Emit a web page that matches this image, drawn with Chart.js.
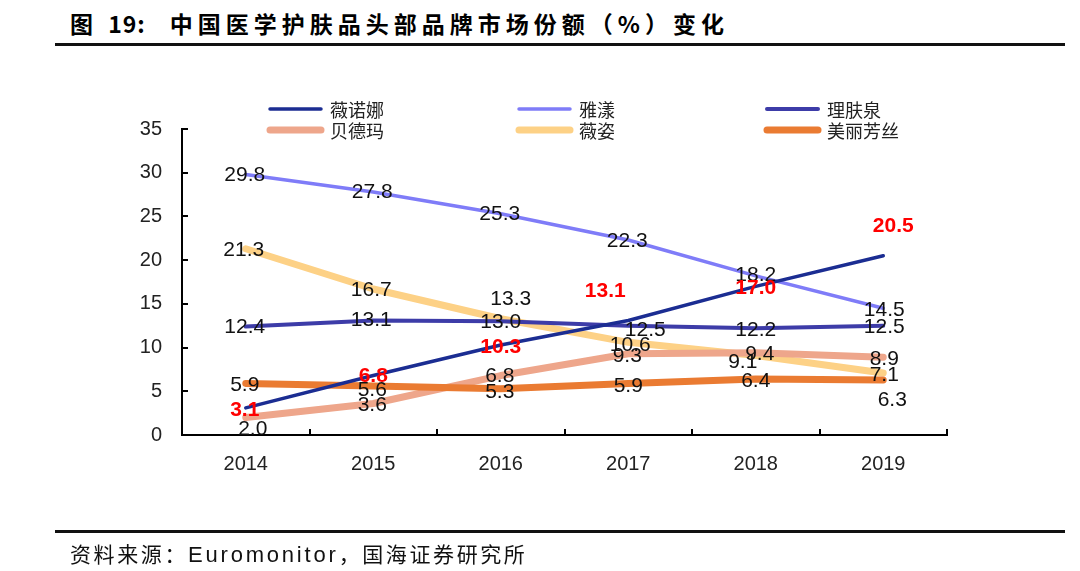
<!DOCTYPE html>
<html>
<head>
<meta charset="utf-8">
<script src="https://cdn.jsdelivr.net/npm/chart.js@4"></script>
<style>
  html, body { margin: 0; padding: 0; background: #fff; }
  #wrap { position: relative; width: 1080px; height: 571px; overflow: hidden; }
  #chart { position: absolute; left: 0; top: 0; }
  .title {
    position: absolute; left: 70px; top: 6px;
    font: bold 23px "Noto Sans CJK SC", sans-serif; letter-spacing: 5px; color: #000;
    white-space: nowrap;
  }
  .title .num { letter-spacing: 1px; margin-right: 24px; }
  .rule { position: absolute; left: 55px; width: 1010px; height: 3px; background: #111; }
  .source {
    position: absolute; left: 70px; top: 538px;
    font: 21px "Noto Sans CJK SC", sans-serif; color: #111; letter-spacing: 2.6px;
    white-space: nowrap;
  }
  .source .en { font-family: "Liberation Sans", Arial, sans-serif; font-size: 22px; letter-spacing: 2.8px; }
</style>
</head>
<body>
<div id="wrap">
  <div class="title">图 <span class="num">19:</span>中国医学护肤品头部品牌市场份额（%）变化</div>
  <div class="rule" style="top:43px"></div>
  <canvas id="chart" width="1080" height="571"></canvas>
  <div class="rule" style="top:530px"></div>
  <div class="source">资料来源：<span class="en">Euromonitor</span>，国海证券研究所</div>
</div>
<script>
// years on the x axis
const years = ['2014', '2015', '2016', '2017', '2018', '2019'];

// market share (%) per brand
const winona   = [3.1, 6.8, 10.3, 13.1, 17.0, 20.5];   // 薇诺娜
const avene    = [29.8, 27.8, 25.3, 22.3, 18.2, 14.5]; // 雅漾
const laRoche  = [12.4, 13.1, 13.0, 12.5, 12.2, 12.5]; // 理肤泉
const bioderma = [2.0, 3.6, 6.8, 9.3, 9.4, 8.9];       // 贝德玛
const vichy    = [21.3, 16.7, 13.3, 10.6, 9.1, 7.1];   // 薇姿
const mediheal = [5.9, 5.6, 5.3, 5.9, 6.4, 6.3];       // 美丽芳丝

const yTicks = [0, 5, 10, 15, 20, 25, 30, 35];

// label nudges in px so the value labels sit like the original
const nudge = {
  winona:   [[-1, 2], [0, 1], [0, 2], [-23, -29], [0, 2], [10, -30]],
  avene:    [[-1, 1], [-1, 0], [-1, 0], [-1, 1], [0, -1], [1, 2]],
  laRoche:  [[-1, 1], [-2, 0], [0, 1], [17, 4], [0, 2], [1, 1]],
  bioderma: [[7, 12], [-1, 2], [-1, 1], [-1, 3], [4, 1], [1, 2]],
  vichy:    [[-2, 1], [-2, 1], [10, -20], [2, 3], [-13, 7], [1, 2]],
  mediheal: [[-1, 2], [-1, 4], [-1, 4], [0, 3], [0, 2], [9, 20]]
};

const lineLabels = {
  id: 'lineLabels',
  afterDatasetsDraw(chart) {
    const ctx = chart.ctx;
    ctx.save();
    ctx.textAlign = 'center';
    ctx.textBaseline = 'middle';
    // black labels first, red ones on top
    const order = chart.data.datasets.map((d, i) => i).sort((a, b) => {
      return (chart.data.datasets[a].labelBold ? 1 : 0) - (chart.data.datasets[b].labelBold ? 1 : 0);
    });
    order.forEach(di => {
      const ds = chart.data.datasets[di];
      const meta = chart.getDatasetMeta(di);
      ctx.font = (ds.labelBold ? 'bold ' : '') + '21px "Liberation Sans", Arial, sans-serif';
      ctx.fillStyle = ds.labelColor || '#111';
      meta.data.forEach((pt, i) => {
        const off = (ds.nudge && ds.nudge[i]) || [0, 0];
        ctx.fillText(ds.data[i].toFixed(1), pt.x + off[0], pt.y + off[1]);
      });
    });
    ctx.restore();
  }
};

const gridLegend = {
  id: 'gridLegend',
  afterDraw(chart, args, opts) {
    const ctx = chart.ctx;
    ctx.save();
    ctx.font = '18px "Noto Sans CJK SC", sans-serif';
    ctx.textBaseline = 'middle';
    ctx.textAlign = 'left';
    chart.data.datasets.forEach((ds, i) => {
      const x = opts.cols[i % 3];
      const y = opts.rows[Math.floor(i / 3)];
      ctx.strokeStyle = ds.borderColor;
      ctx.lineWidth = ds.legendWidth;
      ctx.lineCap = 'round';
      ctx.beginPath();
      ctx.moveTo(x + 3, y);
      ctx.lineTo(x + opts.len - 3, y);
      ctx.stroke();
      ctx.fillStyle = '#222';
      ctx.fillText(ds.label, x + opts.len + 6, y + 1);
    });
    ctx.restore();
  }
};

// short inward tick marks on both axes
const innerTicks = {
  id: 'innerTicks',
  afterDraw(chart) {
    const ctx = chart.ctx;
    const xs = chart.scales.x, ys = chart.scales.y;
    const area = chart.chartArea;
    ctx.save();
    ctx.strokeStyle = '#000';
    ctx.lineWidth = 2;
    ctx.beginPath();
    yTicks.forEach(v => {
      if (v === 0) return;
      const y = Math.round(ys.getPixelForValue(v));
      ctx.moveTo(area.left, y);
      ctx.lineTo(area.left + 6, y);
    });
    const half = (xs.getPixelForValue(1) - xs.getPixelForValue(0)) / 2;
    years.forEach((y, i) => {
      const x = Math.round(xs.getPixelForValue(i) + half);
      ctx.moveTo(x, area.bottom);
      ctx.lineTo(x, area.bottom - 6);
    });
    ctx.stroke();
    ctx.restore();
  }
};

function series(label, data, color, width, extra) {
  return Object.assign({
    label,
    data,
    borderColor: color,
    backgroundColor: color,
    borderWidth: width,
    legendWidth: width,
    borderCapStyle: 'round',
    borderJoinStyle: 'round',
    pointRadius: 0,
    tension: 0,
    fill: false
  }, extra || {});
}

new Chart(document.getElementById('chart'), {
  type: 'line',
  data: {
    labels: years,
    datasets: [
      series('薇诺娜', winona, '#1b2d92', 3.5, { nudge: nudge.winona, labelColor: '#ff0000', labelBold: true, order: 0 }),
      series('雅漾', avene, '#7f7cf8', 3.5, { nudge: nudge.avene, order: 1 }),
      series('理肤泉', laRoche, '#3d3ca8', 4, { nudge: nudge.laRoche, order: 2 }),
      series('贝德玛', bioderma, '#eea68b', 7, { nudge: nudge.bioderma, order: 4 }),
      series('薇姿', vichy, '#fdd186', 7, { nudge: nudge.vichy, order: 5 }),
      series('美丽芳丝', mediheal, '#ea7b32', 7, { nudge: nudge.mediheal, order: 3 })
    ]
  },
  options: {
    responsive: false,
    animation: false,
    events: [],
    layout: { padding: { left: 102, top: 129, right: 133, bottom: 76 } },
    plugins: {
      legend: { display: false },
      tooltip: { enabled: false },
      gridLegend: { cols: [267, 516, 764], rows: [109, 130], len: 57 }
    },
    scales: {
      x: {
        offset: true,
        grid: { display: false, drawTicks: false },
        border: { color: '#000', width: 2 },
        ticks: { color: '#222', padding: 17, font: { size: 20, family: '"Liberation Sans", Arial, sans-serif' } },
        afterFit(scale) { scale.height = 60; }
      },
      y: {
        min: 0,
        max: 35,
        afterBuildTicks(scale) { scale.ticks = yTicks.map(v => ({ value: v })); },
        grid: { display: false, drawTicks: false },
        border: { color: '#000', width: 2 },
        ticks: { color: '#222', padding: 20, font: { size: 20, family: '"Liberation Sans", Arial, sans-serif' } },
        afterFit(scale) { scale.width = 80; }
      }
    }
  },
  plugins: [lineLabels, gridLegend, innerTicks]
});
</script>
</body>
</html>
